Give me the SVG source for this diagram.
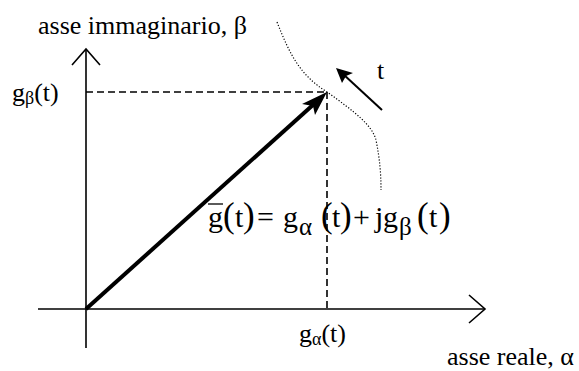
<svg xmlns="http://www.w3.org/2000/svg" width="579" height="371" viewBox="0 0 579 371">
<style>
.ax{stroke:#000;stroke-width:1.6;fill:none}
.dash{stroke:#000;stroke-width:1.6;fill:none;stroke-dasharray:7,4}
.dot{stroke:#000;stroke-width:1.2;fill:none;stroke-dasharray:1.2,1.8}
.lbl{font-family:"Liberation Serif","Times New Roman",serif;font-size:26px;fill:#000}
.sub{font-size:18px}
.eq{font-family:"Liberation Serif","Times New Roman",serif;font-size:30px;fill:#000}
.par{font-size:35px}
.esub{font-size:25px}
</style>
<rect width="579" height="371" fill="#fff"/>
<g id="axes">
<g id="axis-beta">
<line class="ax" x1="86" y1="348" x2="86" y2="49"/>
<polyline class="ax" points="72,65 86,49 100,65"/>
</g>
<g id="axis-alpha">
<line class="ax" x1="38" y1="309" x2="485" y2="309"/>
<polyline class="ax" points="469,295 485,309 469,323"/>
</g>
</g>
<g id="connectors">
<line class="dash" x1="86" y1="92" x2="327" y2="92"/>
<line class="dash" x1="327" y1="92" x2="327" y2="309"/>
<path class="dot" d="M277,22 C290,55 300,75 327,92 C355,112 372,125 376,140 C380,160 381,175 381,190"/>
<g id="vector">
<line x1="86" y1="309" x2="314" y2="104" stroke="#000" stroke-width="4"/>
<polygon points="327,92 315,115 313,106 302,104" fill="#000"/>
</g>
<g id="t-arrow">
<line x1="382" y1="110" x2="343" y2="74" stroke="#000" stroke-width="2"/>
<polygon points="336,68 353,73 346,76 342,83" fill="#000"/>
</g>
</g>
<g id="labels">
<text class="lbl" x="38" y="34">asse immaginario, β</text>
<text class="lbl" x="12" y="101">g<tspan class="sub" dy="3">β</tspan><tspan dy="-3">(t)</tspan></text>
<text class="lbl" x="299" y="342">g<tspan class="sub" dy="3">α</tspan><tspan dy="-3">(t)</tspan></text>
<text class="lbl" x="447" y="365">asse reale, α</text>
<text class="lbl" x="377" y="79">t</text>
</g>
<g id="equation">
<line x1="208" y1="204" x2="223" y2="204" stroke="#000" stroke-width="1.3"/>
<text class="eq" y="227"><tspan x="208">g</tspan><tspan x="223" class="par">(</tspan><tspan x="235">t</tspan><tspan x="243" class="par">)</tspan><tspan x="257">=</tspan><tspan x="283">g</tspan><tspan x="299" class="esub" dy="8">α</tspan><tspan x="321" class="par" dy="-8">(</tspan><tspan x="332">t</tspan><tspan x="340" class="par">)</tspan><tspan x="353">+</tspan><tspan x="375">j</tspan><tspan x="383">g</tspan><tspan x="399" class="esub" dy="8">β</tspan><tspan x="417" class="par" dy="-8">(</tspan><tspan x="429">t</tspan><tspan x="439" class="par">)</tspan></text>
</g>
</svg>
